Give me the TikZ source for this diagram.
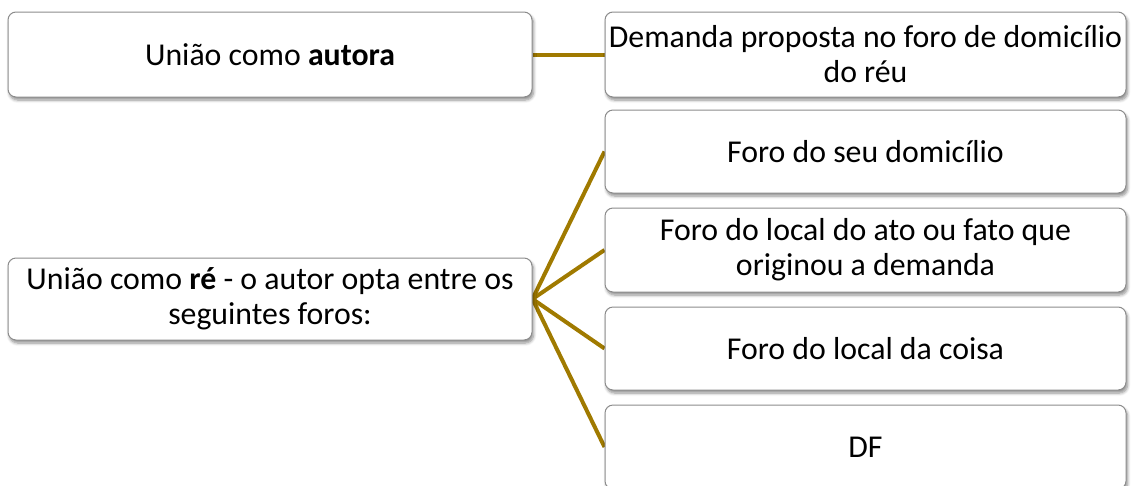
\documentclass[tikz,border=0pt]{standalone}
\usepackage{fontspec}
\setmainfont{Carlito}
\usetikzlibrary{shadows.blur,backgrounds}
\definecolor{gold}{RGB}{160,122,0}
\definecolor{edge}{RGB}{140,140,140}
\begin{document}
\begin{tikzpicture}[x=1pt,y=-1pt,
  box/.style={draw=edge, line width=1pt, fill=white, rounded corners=8pt,
    align=center, inner sep=2pt, font=\fontsize{31.8}{35}\selectfont,
    blur shadow={shadow xshift=1.5pt, shadow yshift=-3pt, shadow blur radius=3pt, shadow blur steps=6, shadow opacity=45}},
  conn/.style={draw=gold, line width=4pt}]
\useasboundingbox (0,0) rectangle (1131,485);
\node[box, minimum width=524pt, minimum height=85pt] (a) at (270,54.5) {União como \textbf{autora}};
\node[box, minimum width=521pt, minimum height=85pt] (b) at (865.5,54.5) {Demanda proposta no foro de domicílio\\do réu};
\node[box, minimum width=524pt, minimum height=82pt] (r) at (270,299) {União como \textbf{ré} - o autor opta entre os\\seguintes foros:};
\node[box, minimum width=521pt, minimum height=83pt] (c1) at (865.5,151.5) {Foro do seu domicílio};
\node[box, minimum width=521pt, minimum height=84pt] (c2) at (865.5,250) {Foro do local do ato ou fato que\\originou a demanda};
\node[box, minimum width=521pt, minimum height=83pt] (c3) at (865.5,348.5) {Foro do local da coisa};
\node[box, minimum width=521pt, minimum height=84pt] (c4) at (865.5,447) {DF};
\begin{scope}[on background layer]
\draw[conn] (a.east) -- (b.west);
\draw[conn] (r.east) -- (c1.west);
\draw[conn] (r.east) -- (c2.west);
\draw[conn] (r.east) -- (c3.west);
\draw[conn] (r.east) -- (c4.west);
\end{scope}
\end{tikzpicture}
\end{document}
